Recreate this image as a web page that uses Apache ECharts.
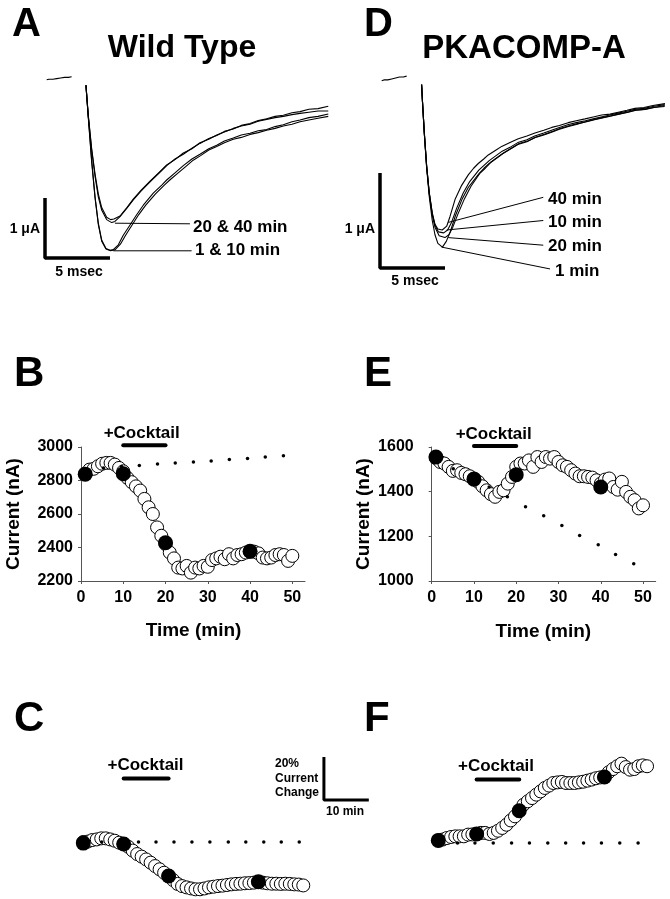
<!DOCTYPE html>
<html><head><meta charset="utf-8">
<script src="https://cdn.jsdelivr.net/npm/echarts@6/dist/echarts.min.js"></script>
<style>html,body{margin:0;padding:0;background:#fff}#c{width:670px;height:899px}</style>
</head><body><div id="c"></div>
<script>
// ================= DATA =================
// Time-course panels (B, C, E, F): one sample per minute
const minutes = [1,2,3,4,5,6,7,8,9,10,11,12,13,14,15,16,17,18,19,20,21,22,23,24,25,26,27,28,29,30,31,32,33,34,35,36,37,38,39,40,41,42,43,44,45,46,47,48,49,50];
const filledMinutes = [1,10,20,40];
const xTicks = [0,10,20,30,40,50];
const cocktailWindow = [10,20];

// Panel B: Wild Type current (nA)
const wtCurrent = [2840,2865,2870,2885,2900,2905,2905,2895,2875,2855,2815,2790,2765,2740,2690,2640,2600,2520,2470,2420,2370,2335,2280,2275,2290,2250,2280,2275,2290,2285,2325,2335,2345,2330,2360,2335,2355,2360,2370,2375,2375,2365,2340,2335,2340,2355,2360,2355,2320,2350];
const wtFilledCurrent = [2838,2840,2428,2378];
const wtRundownTime = [1,5.3,9.6,13.8,18.1,22.3,26.6,30.8,35.1,39.4,43.6,47.9];
const wtRundownCurrent = [2868,2875,2883,2889,2899,2905,2911,2917,2925,2931,2940,2948];

// Panel E: PKACOMP-A current (nA)
const pkCurrent = [1550,1533,1526,1511,1493,1496,1484,1478,1469,1459,1444,1424,1406,1389,1377,1399,1406,1436,1466,1511,1526,1526,1540,1511,1555,1533,1555,1548,1555,1533,1518,1511,1496,1481,1469,1469,1466,1463,1451,1436,1454,1459,1421,1409,1444,1399,1377,1362,1325,1339];
const pkFilledCurrent = [1555,1456,1476,1421];
const pkRundownTime = [1,5.1,9.4,13.6,17.9,22.2,26.5,30.8,35.0,39.4,43.5,47.8];
const pkRundownCurrent = [1545,1503,1462,1421,1377,1332,1292,1249,1204,1162,1119,1077];

// Panel C: Wild Type % current change (run-down corrected)
const wtChange = [0,0.2,0.9,1.2,1.7,1.7,1.2,0.6,-0.3,-0.9,-2.2,-4.0,-5.6,-6.8,-8.1,-9.6,-11.2,-12.7,-14.3,-15.8,-17.7,-19.5,-20.5,-21.1,-21.6,-22.0,-22.0,-21.6,-21.1,-20.8,-20.5,-20.3,-20.0,-19.7,-19.5,-19.4,-19.2,-19.1,-18.9,-18.6,-18.9,-19.2,-19.4,-19.4,-19.5,-19.4,-19.5,-19.7,-19.8,-20.2];
const wtFilledChange = [-0.5,-0.9,-15.8,-18.5];
const wtBaselineTime = [1,5.1,9.2,13.3,17.2,21.2,25.2,29.2,33.3,37.2,41.2,45.1,49.1];
const wtBaselineChange = [0,0,0,0,0,0,0,0,0,0,0,0,0];

// Panel F: PKACOMP-A % current change (run-down corrected)
const pkChange = [1.2,1.6,2.3,2.8,3.1,3.1,3.1,3.9,4.0,4.2,4.7,4.7,4.2,4.7,5.7,7.0,8.5,10.5,12.4,15.0,17.8,19.4,20.9,22.5,24.0,25.6,26.7,27.9,28.2,28.4,27.9,27.9,27.9,28.2,28.5,29.0,29.5,30.1,30.5,30.7,32.9,34.4,35.7,36.9,35.3,34.1,34.4,35.7,36.1,35.7];
const pkFilledChange = [1.2,4.2,15.0,30.7];
const pkBaselineTime = [1,5.5,9.6,13.9,18.2,22.4,26.7,30.9,35.1,39.3,43.6,47.9];
const pkBaselineChange = [0,0,0,0,0,0,0,0,0,0,0,0];

// Panels A and D: current traces [msec, µA]
const preBaseline = [[0.13,-0.03],[0.3,-0.02],[0.45,-0.01],[0.6,-0.02],[0.75,0.0],[0.9,-0.01],[1.05,0.01],[1.2,0.0],[1.35,0.02],[1.5,0.01],[1.65,0.02],[1.8,0.01],[1.95,0.02],[2.05,0.02]];
const wtTrace20 = [[3.15,-0.12],[3.33,-0.64],[3.59,-1.2],[3.85,-1.64],[4.1,-1.98],[4.36,-2.2],[4.74,-2.36],[5.13,-2.41],[5.38,-2.39],[5.77,-2.31],[6.3,-2.17],[6.79,-2.03],[7.4,-1.88],[8.08,-1.73],[8.7,-1.6],[9.36,-1.46],[10.0,-1.35],[10.64,-1.27],[11.3,-1.17],[11.92,-1.09],[12.6,-1.01],[13.21,-0.96],[13.8,-0.89],[14.48,-0.85],[15.1,-0.79],[15.77,-0.76],[16.4,-0.71],[17.05,-0.68],[17.7,-0.64],[18.33,-0.62],[19.0,-0.58],[19.62,-0.56],[20.3,-0.52],[21.0,-0.51],[21.79,-0.47]];
const wtTrace40 = [[3.15,-0.12],[3.33,-0.62],[3.59,-1.18],[3.85,-1.6],[4.1,-1.93],[4.36,-2.16],[4.74,-2.32],[5.05,-2.36],[5.3,-2.35],[5.77,-2.3],[6.3,-2.16],[6.79,-2.02],[7.4,-1.87],[8.08,-1.72],[8.7,-1.59],[9.36,-1.45],[10.0,-1.36],[10.64,-1.25],[11.3,-1.18],[11.92,-1.08],[12.6,-1.02],[13.21,-0.95],[13.8,-0.9],[14.48,-0.84],[15.1,-0.8],[15.77,-0.77],[16.4,-0.72],[17.05,-0.69],[17.7,-0.66],[18.33,-0.64],[19.0,-0.61],[19.62,-0.59],[20.3,-0.57],[21.0,-0.55],[21.79,-0.55]];
const wtTrace1 = [[3.15,-0.12],[3.33,-0.64],[3.59,-1.37],[3.85,-1.98],[4.1,-2.42],[4.36,-2.7],[4.69,-2.84],[5.0,-2.87],[5.25,-2.86],[5.64,-2.78],[6.02,-2.62],[6.54,-2.45],[7.05,-2.28],[7.56,-2.12],[8.33,-1.92],[9.0,-1.78],[9.36,-1.7],[10.0,-1.58],[10.64,-1.46],[11.3,-1.35],[11.92,-1.27],[12.6,-1.18],[13.21,-1.12],[13.8,-1.05],[14.48,-1.0],[15.1,-0.95],[15.77,-0.92],[16.4,-0.88],[17.05,-0.86],[17.7,-0.81],[18.33,-0.78],[19.0,-0.73],[19.62,-0.7],[20.3,-0.66],[21.0,-0.64],[21.79,-0.6]];
const wtTrace10 = [[3.15,-0.12],[3.33,-0.66],[3.59,-1.4],[3.85,-2.0],[4.1,-2.44],[4.36,-2.72],[4.69,-2.85],[5.05,-2.88],[5.4,-2.86],[5.8,-2.77],[6.2,-2.62],[6.7,-2.45],[7.2,-2.28],[7.75,-2.12],[8.5,-1.93],[9.2,-1.78],[9.6,-1.7],[10.2,-1.59],[10.8,-1.48],[11.4,-1.37],[12.0,-1.29],[12.6,-1.2],[13.21,-1.14],[13.8,-1.08],[14.48,-1.02],[15.1,-0.99],[15.77,-0.94],[16.4,-0.91],[17.05,-0.87],[17.7,-0.84],[18.33,-0.8],[19.0,-0.77],[19.62,-0.73],[20.3,-0.7],[21.0,-0.67],[21.79,-0.64]];

const pkTrace40 = [[3.2,-0.07],[3.26,-0.23],[3.41,-0.58],[3.59,-0.93],[3.79,-1.21],[4.02,-1.42],[4.23,-1.54],[4.45,-1.59],[4.79,-1.6],[5.13,-1.56],[5.38,-1.46],[5.77,-1.28],[6.28,-1.13],[6.79,-1.02],[7.2,-0.95],[7.56,-0.9],[8.0,-0.85],[8.33,-0.81],[8.9,-0.76],[9.36,-0.72],[10.0,-0.68],[10.64,-0.64],[11.3,-0.61],[11.92,-0.58],[12.6,-0.55],[13.21,-0.52],[13.8,-0.5],[14.48,-0.47],[15.1,-0.45],[15.77,-0.43],[16.4,-0.41],[17.05,-0.39],[17.7,-0.38],[18.33,-0.36],[19.0,-0.34],[19.62,-0.32],[20.3,-0.31],[21.0,-0.29],[21.92,-0.27]];
const pkTrace10 = [[3.2,-0.07],[3.26,-0.23],[3.41,-0.58],[3.59,-0.93],[3.79,-1.21],[4.02,-1.43],[4.23,-1.55],[4.5,-1.62],[4.9,-1.63],[5.2,-1.6],[5.5,-1.52],[5.9,-1.37],[6.4,-1.21],[6.9,-1.09],[7.6,-0.97],[8.0,-0.92],[8.4,-0.87],[8.9,-0.82],[9.4,-0.77],[10.0,-0.73],[10.6,-0.68],[11.3,-0.65],[11.9,-0.61],[12.6,-0.58],[13.2,-0.55],[13.8,-0.52],[14.5,-0.49],[15.1,-0.47],[15.8,-0.45],[16.4,-0.43],[17.0,-0.41],[17.7,-0.39],[18.3,-0.37],[19.0,-0.35],[19.6,-0.33],[20.3,-0.32],[21.0,-0.3],[21.9,-0.28]];
const pkTrace20 = [[3.2,-0.07],[3.26,-0.23],[3.41,-0.58],[3.59,-0.93],[3.79,-1.22],[4.02,-1.44],[4.23,-1.57],[4.55,-1.66],[5.0,-1.68],[5.3,-1.65],[5.6,-1.57],[6.0,-1.43],[6.5,-1.27],[7.0,-1.14],[7.7,-1.0],[8.1,-0.95],[8.5,-0.89],[9.0,-0.84],[9.5,-0.79],[10.1,-0.74],[10.7,-0.69],[11.4,-0.66],[12.0,-0.62],[12.7,-0.59],[13.3,-0.56],[13.9,-0.53],[14.6,-0.5],[15.2,-0.48],[15.9,-0.46],[16.5,-0.44],[17.1,-0.42],[17.8,-0.4],[18.4,-0.38],[19.1,-0.36],[19.7,-0.34],[20.4,-0.33],[21.1,-0.31],[21.9,-0.29]];
const pkTrace1 = [[3.2,-0.07],[3.26,-0.23],[3.41,-0.59],[3.59,-0.95],[3.79,-1.25],[4.02,-1.5],[4.23,-1.65],[4.45,-1.74],[4.8,-1.78],[5.1,-1.72],[5.4,-1.62],[5.8,-1.45],[6.3,-1.28],[6.8,-1.15],[7.6,-1.01],[8.0,-0.95],[8.4,-0.9],[8.9,-0.85],[9.4,-0.8],[10.0,-0.75],[10.6,-0.7],[11.3,-0.67],[11.9,-0.63],[12.6,-0.6],[13.2,-0.57],[13.8,-0.54],[14.5,-0.51],[15.1,-0.49],[15.8,-0.46],[16.4,-0.44],[17.0,-0.42],[17.7,-0.4],[18.3,-0.38],[19.0,-0.36],[19.6,-0.34],[20.3,-0.33],[21.0,-0.31],[21.9,-0.3]];

// Annotation pointer lines (data units)
const wtPointers = [[[5.38,-2.42],[11.15,-2.43]], [[5.25,-2.88],[11.28,-2.88]]];
const pkPointers = [[[5.25,-1.52],[12.56,-1.256]], [[5.13,-1.6],[12.56,-1.5]], [[5.25,-1.68],[12.56,-1.76]], [[4.74,-1.78],[13.08,-2.01]]];
// Scale bars: 5 msec x 1 µA
const traceScaleMs = 5, traceScaleUA = 1;
// Scale bar for C: 20 % x 10 min
const changeScalePct = 20, changeScaleMin = 10;

// ================= CHART =================
const FONT = '"Liberation Sans", Arial, Helvetica, sans-serif';
const chart = echarts.init(document.getElementById('c'), null, {renderer:'canvas'});
const zip = (a,b) => a.map((v,i)=>[v,b[i]]);

function T(text, x, y, size, align, rot) {
  return {type:'text', x:x, y:y, rotation: rot||0, z:100,
    style:{text:text, fill:'#000', font:'bold '+size+'px '+FONT,
      align: align||'left', verticalAlign:'middle', textAlign: align||'left', textVerticalAlign:'middle'}};
}

const hiddenAxis = (min,max,gi) => ({type:'value', gridIndex:gi, min:min, max:max, show:false});

const grids = [
  {left:45, top:66, width:286, height:198},        // A
  {left:380, top:68.5, width:286, height:209},     // D
  {left:81, top:447, width:224, height:134},       // B
  {left:431.7, top:447, width:224, height:134},    // E
  {left:78.8, top:745.25, width:296.3, height:150.5}, // C
  {left:434.04, top:746.25, width:234.3, height:150.5} // F
];

const plain = v => String(v);
function timeAxis(gi) {
  return {type:'value', gridIndex:gi, min:0, max:53,
    axisLine:{show:true, lineStyle:{color:'#555', width:1}},
    axisTick:{show:true, length:3, inside:false, customValues:xTicks, lineStyle:{color:'#555'}},
    axisLabel:{customValues:xTicks, formatter:plain, margin:9, color:'#000', fontWeight:'bold', fontSize:16, fontFamily:FONT},
    splitLine:{show:false}};
}
function currentAxis(gi, min, max, margin) {
  return {type:'value', gridIndex:gi, min:min, max:max, interval:200,
    axisLine:{show:true, lineStyle:{color:'#555', width:1}},
    axisTick:{show:true, length:3, lineStyle:{color:'#555'}},
    axisLabel:{formatter:plain, margin:margin, color:'#000', fontWeight:'bold', fontSize:16, fontFamily:FONT},
    splitLine:{show:false}};
}

const xAxes = [hiddenAxis(0,22,0), hiddenAxis(0,22,1), timeAxis(2), timeAxis(3), hiddenAxis(0,66,4), hiddenAxis(0,55,5)];
const yAxes = [hiddenAxis(-3.1,0.2,0), hiddenAxis(-2.1,0.1,1), currentAxis(2,2200,3000,8), currentAxis(3,1000,1600,18), hiddenAxis(-25,45,4), hiddenAxis(-25,45,5)];

const series = [];
function line(gi, data, width, extra) {
  series.push(Object.assign({type:'line', xAxisIndex:gi, yAxisIndex:gi, data:data, symbol:'none', clip:false,
    silent:true, animation:false, lineStyle:{color:'#000', width:width}}, extra||{}));
}
function scatter(gi, data, kind) {
  const st = kind==='open' ? {symbolSize:13, itemStyle:{color:'#fff', borderColor:'#000', borderWidth:1, opacity:1}}
           : kind==='filled' ? {symbolSize:15, itemStyle:{color:'#000', opacity:1}}
           : {symbolSize:3.5, itemStyle:{color:'#000', opacity:1}};
  series.push(Object.assign({type:'scatter', xAxisIndex:gi, yAxisIndex:gi, data:data, symbol:'circle', clip:false,
    silent:true, animation:false}, st));
}

// Panel A traces
line(0, preBaseline, 1.1);
[wtTrace1, wtTrace10, wtTrace20, wtTrace40].forEach(d => line(0, d, 1.1));
wtPointers.forEach(d => line(0, d, 1));
line(0, [[0,-3+traceScaleUA],[0,-3],[traceScaleMs,-3]], 3.5);
// Panel D traces
line(1, preBaseline, 1.1);
[pkTrace1, pkTrace20, pkTrace10, pkTrace40].forEach(d => line(1, d, 1.1));
pkPointers.forEach(d => line(1, d, 1));
line(1, [[0,-2+traceScaleUA],[0,-2],[traceScaleMs,-2]], 3.5);

// Panel B
scatter(2, zip(minutes, wtCurrent), 'open');
scatter(2, zip(wtRundownTime, wtRundownCurrent), 'dot');
scatter(2, zip(filledMinutes, wtFilledCurrent), 'filled');
line(2, cocktailWindow.map(t=>[t,3010]), 4, {lineStyle:{color:'#000', width:4, cap:'round'}});
// Panel E
scatter(3, zip(minutes, pkCurrent), 'open');
scatter(3, zip(pkRundownTime, pkRundownCurrent), 'dot');
scatter(3, zip(filledMinutes, pkFilledCurrent), 'filled');
line(3, cocktailWindow.map(t=>[t,1604]), 4, {lineStyle:{color:'#000', width:4, cap:'round'}});
// Panel C
scatter(4, zip(minutes, wtChange), 'open');
scatter(4, zip(wtBaselineTime, wtBaselineChange), 'dot');
scatter(4, zip(filledMinutes, wtFilledChange), 'filled');
line(4, cocktailWindow.map(t=>[t,29.5]), 4, {lineStyle:{color:'#000', width:4, cap:'round'}});
line(4, [[54.6,19.5+changeScalePct],[54.6,19.5],[54.6+changeScaleMin,19.5]], 3);
// Panel F
scatter(5, zip(minutes, pkChange), 'open');
scatter(5, zip(pkBaselineTime, pkBaselineChange), 'dot');
scatter(5, zip(filledMinutes, pkFilledChange), 'filled');
line(5, cocktailWindow.map(t=>[t,29.5]), 4, {lineStyle:{color:'#000', width:4, cap:'round'}});

const graphics = [
  T('A', 12, 25, 40), T('Wild Type', 182, 48, 32, 'center'),
  T('D', 364, 25, 40), T('PKACOMP-A', 524, 48.5, 33, 'center'),
  T('20 & 40 min', 193, 227, 17), T('1 & 10 min', 195, 250, 17),
  T('1 μA', 40, 229, 14, 'right'), T('5 msec', 79, 272.5, 14, 'center'),
  T('1 μA', 375, 229, 14, 'right'), T('5 msec', 415, 281, 14, 'center'),
  T('40 min', 548, 199, 17), T('10 min', 548, 222.3, 17), T('20 min', 548, 246.7, 17), T('1 min', 555, 271.7, 17),
  T('B', 14, 374, 42), T('E', 364, 374, 42), T('C', 14, 719, 42), T('F', 364, 719, 42),
  T('+Cocktail', 141.7, 433.5, 17, 'center'), T('+Cocktail', 493.7, 434, 17, 'center'),
  T('+Cocktail', 145.5, 765, 17, 'center'), T('+Cocktail', 496, 766.5, 17, 'center'),
  T('Current (nA)', 13.3, 514, 19, 'center', Math.PI/2), T('Current (nA)', 364, 514, 19, 'center', Math.PI/2),
  T('Time (min)', 193.5, 631, 19, 'center'), T('Time (min)', 543.3, 631.7, 19, 'center'),
  T('20%', 275, 763.3, 12), T('Current', 275, 778.3, 12), T('Change', 275, 792.8, 12), T('10 min', 326, 812, 12)
];

chart.setOption({
  backgroundColor:'#fff', animation:false,
  grid: grids, xAxis: xAxes, yAxis: yAxes, series: series, graphic: graphics
});
</script></body></html>
